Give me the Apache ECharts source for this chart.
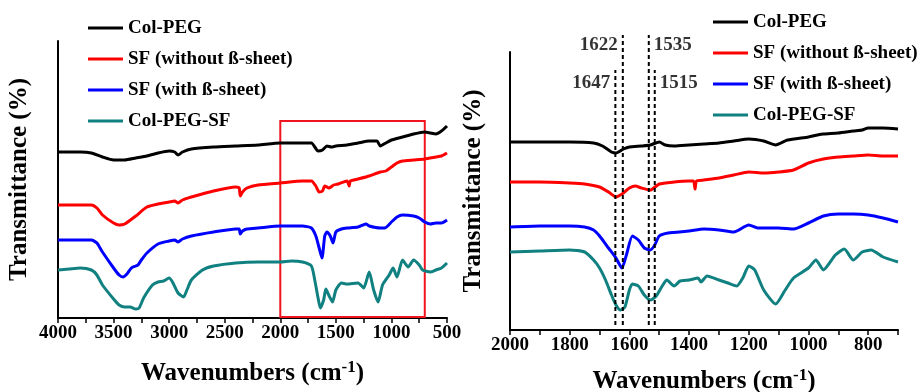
<!DOCTYPE html>
<html>
<head>
<meta charset="utf-8">
<script src="https://cdn.jsdelivr.net/npm/echarts@6/dist/echarts.min.js"></script>
<style>html,body{margin:0;padding:0;background:#fff}#c{width:917px;height:392px}</style>
</head>
<body>
<div id="c"></div>
<script>
// ---------- DATA (wavenumber cm-1, transmittance in arbitrary offset units) ----------
const seriesNames = ['Col-PEG', 'SF (without ß-sheet)', 'SF (with ß-sheet)', 'Col-PEG-SF'];
const seriesColors = ['#000000', '#ff0000', '#0000ff', '#108080'];

// Left panel: full range 4000-500
const leftColPEG = [[4000,166],[3800,166],[3700,165],[3600,161],[3500,158],[3400,158],[3300,160],[3200,162],[3100,165],[3000,167],[2950,166],[2920,163],[2880,166],[2800,169],[2600,171],[2400,172],[2200,173],[2000,175],[1800,175],[1720,175],[1660,167],[1620,168],[1580,172],[1540,171],[1500,172],[1400,173],[1300,175],[1200,177],[1130,177],[1100,172],[1050,175],[1000,178],[900,181],[800,184],[700,186],[650,185],[600,184],[550,187],[500,192]];
const leftSFwithout = [[4000,113],[3800,113],[3700,113],[3650,110],[3600,103],[3500,95],[3450,93],[3400,94],[3300,102],[3200,111],[3100,114],[3000,116],[2950,117],[2920,115],[2880,118],[2800,121],[2600,127],[2400,131],[2370,130],[2360,122],[2340,126],[2300,130],[2200,133],[2000,135],[1800,137],[1720,137],[1680,132],[1650,126],[1620,127],[1600,132],[1560,130],[1520,133],[1480,134],[1400,137],[1380,132],[1370,137],[1300,139],[1200,142],[1100,146],[1050,147],[1000,151],[950,155],[900,157],[800,158],[700,159],[600,161],[550,162],[500,165]];
const leftSFwith = [[4000,78],[3800,78],[3700,78],[3650,75],[3600,66],[3500,50],[3450,43],[3415,41],[3380,44],[3340,50],[3300,52],[3280,53],[3250,58],[3200,65],[3100,74],[3000,77],[2950,78],[2920,76],[2880,79],[2800,82],[2600,86],[2400,89],[2370,89],[2360,84],[2340,87],[2300,89],[2200,90],[2000,92],[1800,92],[1720,90],[1680,82],[1650,70],[1625,60],[1600,82],[1580,86],[1550,82],[1525,75],[1500,86],[1450,89],[1400,90],[1300,91],[1230,94],[1200,92],[1100,90],[1060,90],[1000,96],[950,101],[900,103],[800,102],[750,100],[700,96],[650,94],[600,95],[550,95],[500,98]];
const leftColPEGSF = [[4000,48],[3900,49],[3800,50],[3700,48],[3650,43],[3600,33],[3500,19],[3450,13],[3400,11],[3350,11],[3300,9],[3270,10],[3230,20],[3150,33],[3100,36],[3050,37],[3000,40],[2970,36],[2920,25],[2870,21],[2840,28],[2800,38],[2700,48],[2600,52],[2400,55],[2200,56],[2000,56],[1900,57],[1800,56],[1720,52],[1690,38],[1660,20],[1640,10],[1610,18],[1590,29],[1560,22],[1530,16],[1500,28],[1450,35],[1400,34],[1300,35],[1250,30],[1200,46],[1160,28],[1120,16],[1080,33],[1020,43],[985,50],[950,41],[900,58],[850,51],[800,58],[750,53],[720,48],[650,46],[600,48],[550,50],[500,55]];

// Right panel: zoom 2000-700
const rightColPEG = [[2000,188],[1900,188],[1800,188],[1720,187],[1690,184],[1660,178],[1645,177],[1620,181],[1600,183],[1560,184],[1530,185],[1500,188],[1480,185],[1450,184],[1400,185],[1350,186],[1300,187],[1250,189],[1200,191],[1150,189],[1110,185],[1070,190],[1000,193],[970,195],[950,196],[900,197],[850,199],[820,200],[800,202],[750,202],[700,201]];
const rightSFwithout = [[2000,148],[1900,148],[1800,147],[1750,146],[1700,143],[1670,138],[1645,133],[1620,137],[1600,142],[1580,144],[1560,142],[1530,140],[1500,146],[1450,148],[1400,149],[1385,149],[1380,141],[1375,149],[1350,150],[1300,152],[1250,155],[1200,158],[1150,157],[1100,158],[1050,160],[1000,167],[950,171],[900,173],[850,174],[800,175],[750,174],[700,174]];
const rightSFwith = [[2000,103],[1900,104],[1800,104],[1750,103],[1720,100],[1700,94],[1670,82],[1645,72],[1625,62],[1610,75],[1590,94],[1570,90],[1550,82],[1530,80],[1515,85],[1500,94],[1470,97],[1400,99],[1350,101],[1300,100],[1250,98],[1200,105],[1170,102],[1100,102],[1050,101],[1000,107],[950,114],[900,116],[850,116],[800,115],[750,112],[700,108]];
const rightColPEGSF = [[2000,78],[1900,79],[1800,80],[1750,78],[1720,70],[1700,62],[1680,50],[1660,35],[1645,25],[1630,20],[1615,23],[1600,40],[1590,46],[1570,44],[1550,35],[1530,30],[1510,34],[1490,44],[1475,50],[1450,44],[1430,49],[1400,50],[1370,52],[1360,48],[1340,54],[1300,50],[1270,47],[1240,44],[1220,52],[1200,64],[1180,60],[1150,40],[1110,26],[1080,39],[1050,52],[1000,62],[975,70],[950,60],[910,75],[880,81],[850,70],[820,78],[790,80],[750,73],[700,68]];

// Highlighted region on left panel
const boxRange = [2000, 700];
const boxY = [1, 197];
// Marked peaks on right panel
const peakWn = [1622, 1535, 1647, 1515];
const peakLineBottom = 5;
const peakLineTop = [295, 295, 260, 260];
const peakLabelY = [285, 285, 247, 247];
const peakLabelSide = ['left', 'right', 'left', 'right'];
const leftTicks = { min: 500, max: 4000, step: 250, labelStep: 500 };
const rightTicks = { min: 700, max: 2000, step: 100, labelStep: 200 };

// ---------- CHART ----------
const FONT = 'Liberation Serif, Times New Roman, serif';
const chart = echarts.init(document.getElementById('c'), null, { renderer: 'canvas' });

function xAxisDef(grid, t, gap) {
  return {
    type: 'value', gridIndex: grid, inverse: true,
    min: t.min, max: t.max, interval: t.step,
    name: '{t|Wavenumbers (cm}{s|-1}{t|)}',
    nameLocation: 'middle', nameGap: gap,
    nameTextStyle: {
      rich: {
        t: { fontFamily: FONT, fontWeight: 'bold', fontSize: 25, color: '#000' },
        s: { fontFamily: FONT, fontWeight: 'bold', fontSize: 17, color: '#000', verticalAlign: 'top', padding: [0, 0, 12, 0] }
      }
    },
    axisLine: { show: true, onZero: false, lineStyle: { color: '#000', width: 2 } },
    axisTick: { show: true, inside: false, length: 5, lineStyle: { color: '#000', width: 1.5 } },
    axisLabel: {
      interval: 0, margin: 6, color: '#000', fontFamily: FONT, fontWeight: 'bold', fontSize: 19,
      formatter: v => (Math.round(v) % t.labelStep === 0 ? String(v) : '')
    },
    splitLine: { show: false }
  };
}
function yAxisDef(grid, max, gap) {
  return {
    type: 'value', gridIndex: grid, min: 0, max: max,
    name: 'Transmittance (%)', nameLocation: 'middle', nameGap: gap, nameRotate: 90,
    nameTextStyle: { fontFamily: FONT, fontWeight: 'bold', fontSize: 25, color: '#000' },
    axisLine: { show: true, lineStyle: { color: '#000', width: 2 } },
    axisTick: { show: false }, axisLabel: { show: false }, splitLine: { show: false }
  };
}
function lineSeries(name, data, color, xi, yi) {
  return {
    type: 'line', name: name, data: data, xAxisIndex: xi, yAxisIndex: yi,
    showSymbol: false, symbol: 'none', smooth: 0.2,
    lineStyle: { color: color, width: 3 }, itemStyle: { color: color },
    animation: false
  };
}

const leftData = [leftColPEG, leftSFwithout, leftSFwith, leftColPEGSF];
const rightData = [rightColPEG, rightSFwithout, rightSFwith, rightColPEGSF];
const series = [];
leftData.forEach((d, i) => series.push(lineSeries(seriesNames[i], d, seriesColors[i], 0, 0)));
rightData.forEach((d, i) => series.push(lineSeries(seriesNames[i], d, seriesColors[i], 1, 1)));

// red highlight box
series.push({
  type: 'line', xAxisIndex: 0, yAxisIndex: 0, data: [], silent: true, animation: false,
  markArea: {
    silent: true,
    itemStyle: { color: 'rgba(0,0,0,0)', borderColor: '#f0141e', borderWidth: 2 },
    data: [[{ coord: [boxRange[0], boxY[0]] }, { coord: [boxRange[1], boxY[1]] }]]
  }
});
// dashed peak lines
peakWn.forEach((w, i) => series.push({
  type: 'line', xAxisIndex: 1, yAxisIndex: 1, clip: false, silent: true, animation: false,
  showSymbol: false, symbol: 'none',
  data: [[w, peakLineBottom], [w, peakLineTop[i]]],
  lineStyle: { color: '#000', width: 2, type: [4, 3] }
}));
// peak labels
series.push({
  type: 'scatter', xAxisIndex: 1, yAxisIndex: 1, clip: false, symbolSize: 0, animation: false, silent: true,
  data: peakWn.map((w, i) => ({
    value: [w, peakLabelY[i]],
    label: { show: true, position: peakLabelSide[i], distance: 5, formatter: String(w),
      fontFamily: FONT, fontWeight: 'bold', fontSize: 19, color: '#000' }
  }))
});

const legendBase = {
  orient: 'vertical', icon: 'rect', itemWidth: 35, itemHeight: 3, itemGap: 11, padding: 0,
  data: seriesNames,
  textStyle: { fontFamily: FONT, fontWeight: 'bold', fontSize: 19, color: '#000', lineHeight: 20 }
};

chart.setOption({
  backgroundColor: '#fff',
  animation: false,
  grid: [
    { left: 58, top: 41, width: 389, height: 277, outerBoundsMode: 'none' },
    { left: 510, top: 52, width: 388, height: 278, outerBoundsMode: 'none' }
  ],
  legend: [
    Object.assign({}, legendBase, { left: 88, top: 18 }),
    Object.assign({}, legendBase, { left: 713, top: 12 })
  ],
  xAxis: [xAxisDef(0, leftTicks, 41), xAxisDef(1, rightTicks, 37)],
  yAxis: [yAxisDef(0, 277, 26), yAxisDef(1, 278, 24)],
  series: series
});
</script>
</body>
</html>
